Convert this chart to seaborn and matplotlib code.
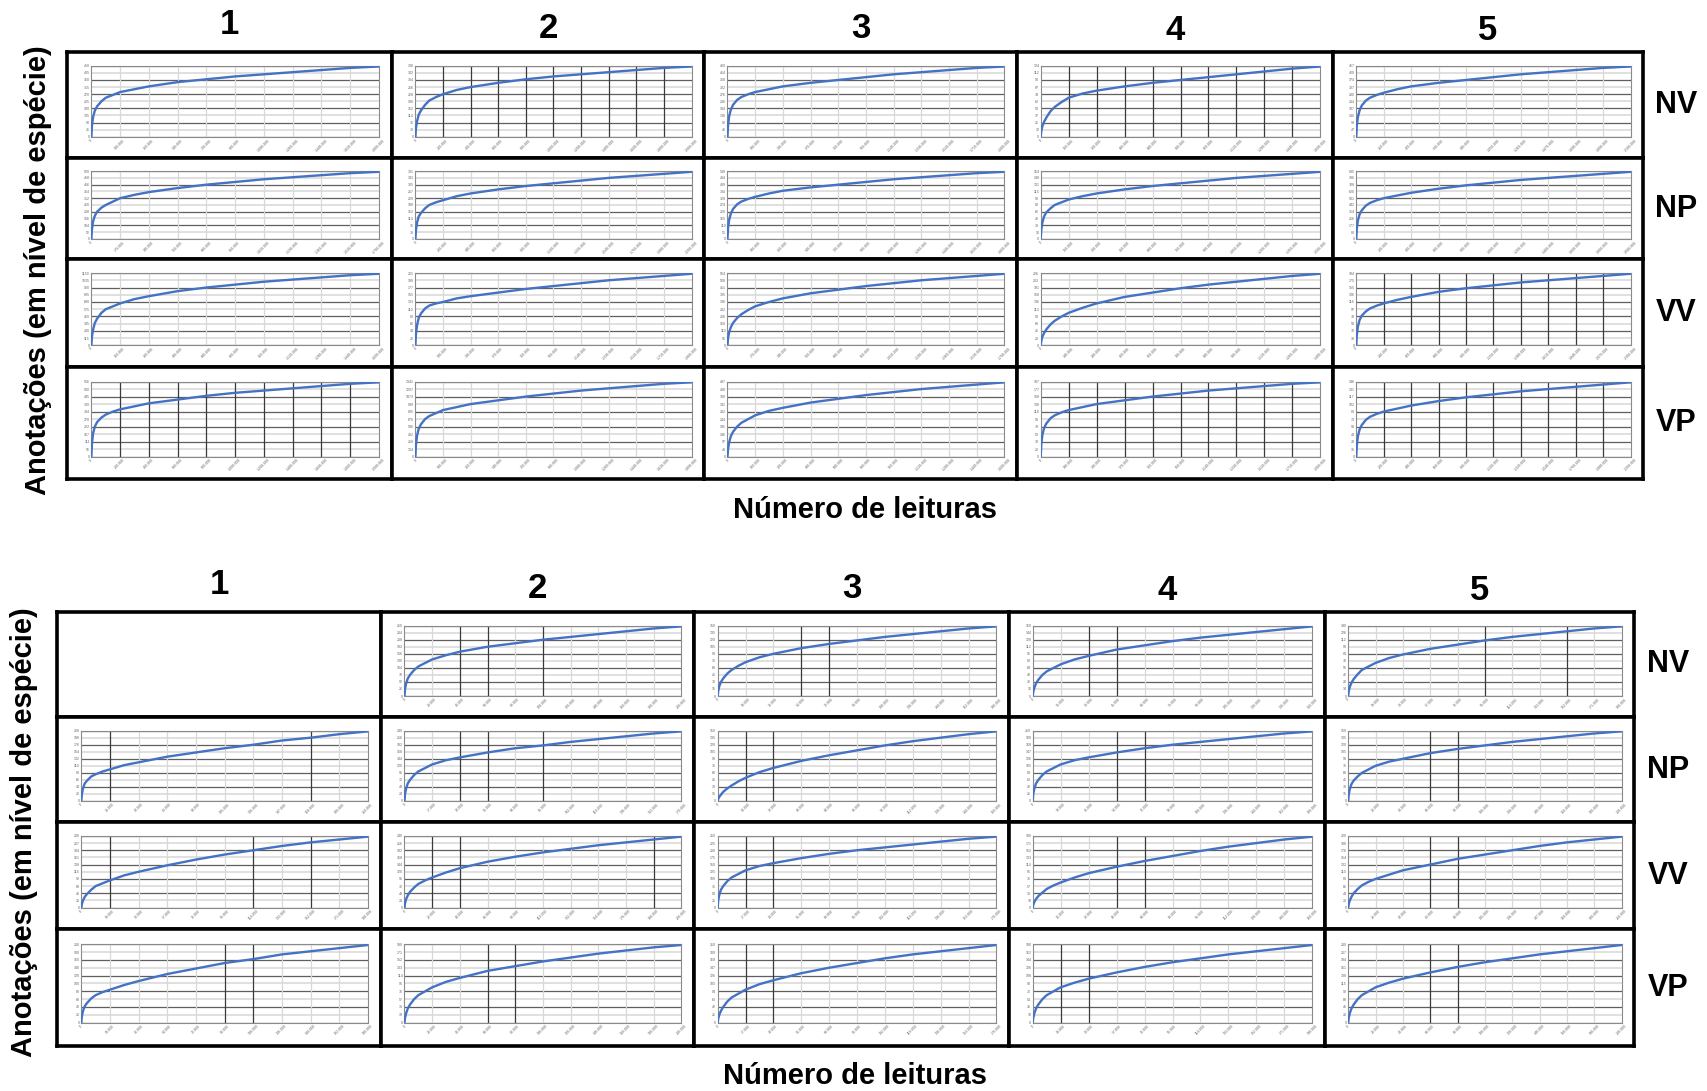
import matplotlib
matplotlib.use("Agg")
import matplotlib.pyplot as plt
import seaborn as sns
import pandas as pd
import numpy as np

sns.set_theme(style="white")
plt.rcParams['font.family'] = ['Liberation Sans', 'DejaVu Sans']
plt.rcParams['text.color'] = 'black'

# ---------------- data ----------------
columns = ["1", "2", "3", "4", "5"]
rows = ["NV", "NP", "VV", "VP"]
y_label = "Anotações (em nível de espécie)"
x_label = "Número de leituras"

# sampling depth as fraction of total reads
depth_frac = [0, 0.002, 0.006, 0.012, 0.02, 0.035, 0.05, 0.075, 0.1, 0.15, 0.2,
              0.3, 0.4, 0.5, 0.6, 0.7, 0.8, 0.9, 1.0]

# richness as % of final richness (top figure)
top_NV = [
    [0, 16, 28, 37, 43, 50, 55, 59, 63, 67, 71, 77, 81, 85, 88, 91, 94, 97, 99],
    [0, 12, 22, 31, 37, 45, 51, 56, 60, 66, 70, 76, 81, 85, 88, 91, 94, 97, 99],
    [0, 16, 29, 38, 45, 52, 56, 60, 63, 67, 71, 76, 80, 84, 88, 91, 94, 97, 99],
    [0, 8, 15, 21, 27, 36, 42, 49, 55, 61, 65, 71, 76, 80, 84, 88, 92, 96, 99],
    [0, 16, 28, 37, 44, 51, 55, 59, 62, 67, 71, 76, 80, 84, 88, 91, 94, 97, 99],
]
top_NP = [
    [0, 14, 26, 34, 40, 46, 50, 55, 60, 65, 69, 75, 80, 84, 88, 91, 94, 97, 99],
    [0, 13, 24, 33, 38, 45, 50, 54, 57, 63, 67, 73, 78, 82, 86, 90, 93, 96, 99],
    [0, 16, 28, 37, 44, 51, 55, 59, 62, 67, 71, 76, 80, 84, 88, 91, 94, 97, 99],
    [0, 13, 24, 33, 39, 45, 50, 54, 58, 63, 67, 73, 78, 82, 86, 90, 93, 96, 99],
    [0, 15, 27, 36, 42, 49, 53, 57, 60, 64, 68, 74, 79, 83, 87, 90, 93, 96, 99],
]
top_VV = [
    [0, 12, 22, 31, 37, 45, 50, 54, 58, 64, 68, 75, 80, 84, 88, 91, 94, 97, 99],
    [0, 16, 28, 38, 44, 51, 55, 58, 60, 65, 68, 73, 78, 82, 86, 90, 93, 96, 99],
    [0, 10, 18, 25, 31, 38, 43, 49, 54, 60, 65, 72, 77, 82, 86, 90, 93, 96, 99],
    [0, 6, 12, 17, 22, 29, 34, 40, 45, 52, 58, 67, 73, 79, 84, 88, 92, 96, 99],
    [0, 14, 26, 35, 41, 47, 51, 55, 58, 63, 67, 74, 79, 83, 87, 90, 93, 96, 99],
]
top_VP = [
    [0, 18, 31, 40, 46, 52, 56, 60, 63, 67, 71, 76, 81, 85, 88, 91, 94, 97, 99],
    [0, 16, 28, 37, 43, 50, 54, 58, 62, 66, 70, 75, 80, 84, 88, 91, 94, 97, 99],
    [0, 10, 19, 27, 33, 40, 45, 50, 55, 61, 65, 72, 77, 82, 86, 90, 93, 96, 99],
    [0, 16, 29, 38, 44, 51, 55, 59, 62, 66, 70, 75, 80, 84, 88, 91, 94, 97, 99],
    [0, 15, 27, 36, 42, 49, 53, 57, 60, 64, 68, 74, 79, 83, 87, 90, 93, 96, 99],
]

# bottom figure (first NV panel is empty)
bot_NV = [
    None,
    [0, 10, 18, 25, 30, 37, 42, 47, 52, 58, 63, 70, 75, 80, 84, 88, 92, 96, 99],
    [0, 7, 14, 20, 25, 32, 37, 43, 48, 55, 60, 68, 74, 79, 84, 88, 92, 96, 99],
    [0, 6, 12, 18, 23, 30, 35, 40, 45, 52, 57, 66, 72, 78, 83, 87, 91, 95, 99],
    [0, 7, 13, 19, 24, 31, 37, 42, 47, 54, 59, 67, 73, 79, 84, 88, 92, 96, 99],
]
bot_NP = [
    [0, 10, 18, 25, 29, 35, 38, 42, 45, 51, 55, 63, 69, 75, 80, 86, 90, 95, 99],
    [0, 10, 18, 25, 30, 37, 42, 47, 52, 58, 62, 69, 75, 79, 84, 88, 92, 96, 99],
    [0, 3, 6, 9, 13, 18, 22, 28, 33, 41, 47, 57, 65, 72, 79, 85, 90, 95, 99],
    [0, 10, 18, 25, 30, 37, 42, 47, 52, 58, 62, 69, 75, 80, 84, 88, 92, 96, 99],
    [0, 9, 17, 24, 29, 35, 40, 45, 50, 56, 60, 68, 74, 79, 84, 88, 92, 96, 99],
]
bot_VV = [
    [0, 5, 10, 15, 19, 25, 30, 34, 38, 45, 50, 59, 67, 74, 80, 86, 91, 95, 99],
    [0, 6, 12, 17, 22, 28, 33, 38, 42, 49, 55, 64, 71, 77, 82, 87, 91, 95, 99],
    [0, 10, 18, 25, 30, 37, 42, 47, 52, 58, 62, 69, 75, 80, 84, 88, 92, 96, 99],
    [0, 4, 8, 12, 16, 21, 26, 31, 35, 42, 48, 57, 65, 72, 79, 85, 90, 95, 99],
    [0, 5, 10, 15, 20, 26, 31, 36, 40, 46, 52, 60, 68, 74, 80, 86, 91, 95, 99],
]
bot_VP = [
    [0, 8, 15, 21, 25, 31, 35, 39, 42, 48, 53, 62, 69, 76, 81, 87, 91, 95, 99],
    [0, 6, 12, 18, 23, 30, 35, 40, 45, 52, 57, 66, 72, 78, 83, 88, 92, 96, 99],
    [0, 5, 10, 15, 20, 27, 32, 37, 42, 49, 54, 63, 70, 76, 82, 87, 91, 95, 99],
    [0, 6, 12, 18, 23, 30, 35, 40, 45, 51, 56, 64, 71, 77, 82, 87, 91, 95, 99],
    [0, 6, 12, 18, 23, 30, 35, 40, 45, 51, 56, 64, 71, 77, 82, 87, 91, 95, 99],
]

# final richness (species) and total reads per panel (axis scales)
top_species = [[450, 380, 460, 124, 467], [520, 381, 549, 164, 885],
               [1150, 221, 564, 226, 194], [556, 1341, 487, 197, 146]]
top_reads = [[1800000, 2000000, 1900000, 1600000, 2100000], [1700000, 2200000, 1800000, 1500000, 2000000],
             [1600000, 1900000, 1700000, 1400000, 2300000], [2000000, 1800000, 1600000, 1900000, 2200000]]
bot_species = [[0, 260, 150, 160, 140], [220, 240, 150, 210, 150],
               [230, 240, 250, 190, 220], [200, 190, 210, 180, 230]]
bot_reads = [[0, 200000, 180000, 150000, 190000], [210000, 170000, 160000, 180000, 200000],
             [190000, 220000, 170000, 160000, 210000], [180000, 200000, 170000, 190000, 200000]]

# ---------------- styling ----------------
ALL = set(range(1, 10))
top_vdark = [[set(), ALL, set(), ALL, set()],
             [set(), set(), set(), set(), set()],
             [set(), set(), set(), set(), ALL],
             [ALL, set(), set(), ALL, ALL]]
bot_vdark = [[set(), {2, 3, 5}, {3, 4}, {2, 3}, {5, 8}],
             [{1, 8}, {2, 3, 5}, {1, 2}, {3, 4}, {3, 4}],
             [{1, 6, 8}, {1, 2, 9}, {1, 2}, {3, 4}, {3, 4}],
             [{5, 6}, {3, 4}, {1, 2}, {1, 2}, {3, 4}]]

W, H = 1708, 1091
fig = plt.figure(figsize=(W / 100, H / 100), dpi=100)
fig.patch.set_facecolor("white")

top_cols = [67, 392, 704, 1017, 1333, 1643]
top_rows = [52, 158, 259, 367, 479]
bot_cols = [57, 381, 694, 1009, 1325, 1634]
bot_rows = [612, 717, 822, 929, 1046]
top_title_y = [24, 29, 29, 30, 30]
bot_title_y = [585, 588, 588, 591, 591]

curve_color = "#4472C4"


def fig_rect(x0, x1, y0, y1):
    return [x0 / W, 1 - y1 / H, (x1 - x0) / W, (y1 - y0) / H]


def draw_cell(x0, x1, y0, y1, curve, species, reads, vdark):
    outer = fig.add_axes(fig_rect(x0, x1, y0, y1))
    outer.set_xticks([]); outer.set_yticks([])
    outer.set_facecolor("white")
    for s in outer.spines.values():
        s.set_color("black"); s.set_linewidth(2.6)
    if curve is None:
        return
    cw, ch = x1 - x0, y1 - y0
    ax = fig.add_axes(fig_rect(x0 + 0.075 * cw, x1 - 0.04 * cw, y0 + 0.13 * ch, y1 - 0.2 * ch))
    ax.set_facecolor("white")
    for i in range(11):
        lvl = i * 10
        if i % 2 == 0:
            ax.axhline(lvl, color="#5f5f5f", lw=0.9, zorder=1)
        else:
            ax.axhline(lvl, color="#dddddd", lw=1.3, zorder=1)
    for i in range(1, 10):
        xv = i / 10
        if i in vdark:
            ax.axvline(xv, color="#3a3a3a", lw=0.9, zorder=1)
        else:
            ax.axvline(xv, color="#d8d8d8", lw=0.9, zorder=1)
    df = pd.DataFrame({"depth": depth_frac, "rich": curve})
    sns.lineplot(data=df, x="depth", y="rich", ax=ax, color=curve_color, lw=1.7, zorder=3)
    ax.set_xlim(0, 1.0)
    ax.set_ylim(0, 100)
    ax.set_xticks(np.linspace(0, 1, 11))
    ax.set_xticklabels([f"{int(round(reads * t)):,}".replace(",", ".") for t in np.linspace(0, 1, 11)],
                       rotation=45, fontsize=2.6, color="#666666")
    ax.set_yticks(np.arange(0, 101, 10))
    ax.set_yticklabels([str(int(round(species * t / 100))) for t in range(0, 101, 10)],
                       fontsize=2.6, color="#666666")
    ax.tick_params(length=0, pad=1)
    ax.set_xlabel(""); ax.set_ylabel("")
    for s in ax.spines.values():
        s.set_color("#8a8a8a"); s.set_linewidth(0.8)


top_data = [top_NV, top_NP, top_VV, top_VP]
bot_data = [bot_NV, bot_NP, bot_VV, bot_VP]

for r in range(4):
    for c in range(5):
        draw_cell(top_cols[c], top_cols[c + 1], top_rows[r], top_rows[r + 1],
                  top_data[r][c], top_species[r][c], top_reads[r][c], top_vdark[r][c])
        draw_cell(bot_cols[c], bot_cols[c + 1], bot_rows[r], bot_rows[r + 1],
                  bot_data[r][c], bot_species[r][c], bot_reads[r][c], bot_vdark[r][c])

fs_title = 25
fs_row = 22
fs_lab = 21
txt = dict(fontweight="bold", color="black")
for c in range(5):
    fig.text((top_cols[c] + top_cols[c + 1]) / 2 / W, 1 - top_title_y[c] / H, columns[c],
             ha="center", va="center", fontsize=fs_title, **txt)
    fig.text((bot_cols[c] + bot_cols[c + 1]) / 2 / W, 1 - bot_title_y[c] / H, columns[c],
             ha="center", va="center", fontsize=fs_title, **txt)
for r in range(4):
    fig.text(1676 / W, 1 - (top_rows[r] + top_rows[r + 1]) / 2 / H, rows[r],
             ha="center", va="center", fontsize=fs_row, **txt)
    fig.text(1668 / W, 1 - (bot_rows[r] + bot_rows[r + 1]) / 2 / H, rows[r],
             ha="center", va="center", fontsize=fs_row, **txt)

fig.text(38 / W, 1 - 270 / H, y_label, rotation=90, ha="center", va="center",
         fontsize=fs_lab, **txt)
fig.text(24 / W, 1 - 832 / H, y_label, rotation=90, ha="center", va="center",
         fontsize=fs_lab, **txt)
fig.text(865 / W, 1 - 510 / H, x_label, ha="center", va="center", fontsize=fs_lab, **txt)
fig.text(855 / W, 1 - 1076 / H, x_label, ha="center", va="center", fontsize=fs_lab, **txt)

fig.savefig("out.png", dpi=100, facecolor="white")
